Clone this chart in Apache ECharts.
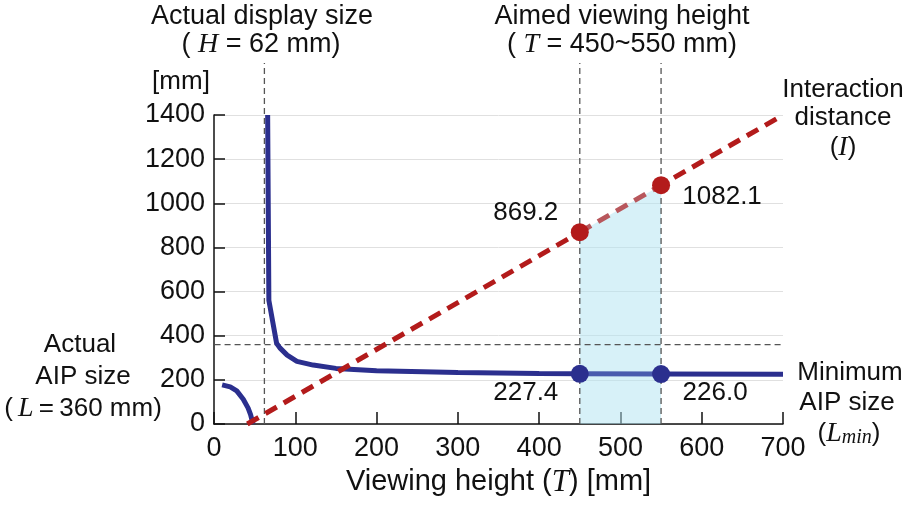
<!DOCTYPE html>
<html>
<head>
<meta charset="utf-8">
<script src="https://cdn.jsdelivr.net/npm/echarts@6/dist/echarts.min.js"></script>
<style>
  html, body { margin: 0; padding: 0; background: #ffffff; }
  #chart { width: 909px; height: 506px; }
</style>
</head>
<body>
<div id="chart"></div>
<script>
// Viewing height axis (mm) and value axis (mm)
const xRange = [0, 700];
const xStep = 100;
const yRange = [0, 1400];
const yStep = 200;

// Minimum AIP size, branch below the display size
const lminLowT = [10, 20, 28, 36, 42, 45, 48];
const lminLow  = [177, 168, 150, 112, 72, 42, 0];

// Minimum AIP size, branch above the display size
const lminT = [66, 67.5, 77, 81, 90, 102, 122, 150, 200, 300, 400, 450, 550, 700];
const lmin  = [1400, 560, 366, 345, 312, 284, 267, 252, 241, 233, 229, 227.4, 226.0, 225];

// Interaction distance
const interT = [41, 450, 550, 700];
const inter  = [0, 869.2, 1082.1, 1400];

// Aimed viewing height range and values read at its ends
const aimT = [450, 550];
const aimInter = [869.2, 1082.1];
const aimLmin = [227.4, 226.0];

// Reference values
const displayH = 62;     // actual display size
const actualL = 360;     // actual AIP size
const guideTop = 1636;   // reference lines run up to the titles
const guideLeft = -110;  // L line runs out to its label

const pairs = (xs, ys) => xs.map((x, i) => [x, ys[i]]);
const within = (xs, ys, lo, hi) => pairs(xs, ys).filter(p => p[0] >= lo && p[0] <= hi);

const SANS = 'Liberation Sans';
const SERIF = 'Liberation Serif';
const BLUE = '#2b2f8e';
const BLUE_SOFT = '#4a5cae';
const RED = '#b31b1b';
const RED_SOFT = '#b8575c';
const GUIDE = '#555555';
const INK = '#111111';

const rich = {
  n: { fontFamily: SANS, fontSize: 26, color: INK },
  i: { fontFamily: SERIF, fontStyle: 'italic', fontSize: 28, color: INK },
  s: { fontFamily: SERIF, fontStyle: 'italic', fontSize: 20, color: INK, verticalAlign: 'bottom', padding: [8, 0, 0, 0] }
};

function txt(x, y, text, size) {
  const r = JSON.parse(JSON.stringify(rich));
  if (size) { r.n.fontSize = size; }
  return {
    type: 'text', x: x, y: y, z: 10,
    style: {
      text: text, rich: r, align: 'center', verticalAlign: 'middle',
      fontFamily: SANS, fontSize: size || 26, fill: INK
    }
  };
}

const guideStyle = { color: GUIDE, width: 1.3, type: [6, 4] };

function guide(data) {
  return {
    type: 'line', data: data, clip: false, symbol: 'none', silent: true, z: 3,
    lineStyle: guideStyle
  };
}

function valueLabel(dx, dy) {
  return {
    show: true, position: 'inside', offset: [dx, dy],
    fontFamily: SANS, fontSize: 26, color: INK, opacity: 1,
    formatter: p => p.value[1].toFixed(1)
  };
}

const chart = echarts.init(document.getElementById('chart'), null, { renderer: 'canvas' });

chart.setOption({
  animation: false,
  backgroundColor: '#ffffff',
  grid: { left: 214, right: 126, top: 115, bottom: 82, containLabel: false, outerBoundsMode: 'none' },
  xAxis: {
    type: 'value', min: xRange[0], max: xRange[1], interval: xStep,
    axisLine: { show: true, lineStyle: { color: INK, width: 1.5 } },
    axisTick: { show: true, inside: true, length: 12, lineStyle: { color: INK, width: 1.5 } },
    axisLabel: { fontFamily: SANS, fontSize: 27, color: INK, margin: 11, formatter: v => String(v) },
    splitLine: { show: false },
    name: '{n|Viewing height (}{i|T}{n|) [mm]}',
    nameLocation: 'middle', nameGap: 39,
    nameTextStyle: {
      rich: {
        n: { fontFamily: SANS, fontSize: 29, color: INK },
        i: { fontFamily: SERIF, fontStyle: 'italic', fontSize: 31, color: INK }
      }
    }
  },
  yAxis: {
    type: 'value', min: yRange[0], max: yRange[1], interval: yStep,
    axisLine: { show: true, lineStyle: { color: INK, width: 1.5 } },
    axisTick: { show: true, inside: true, length: 11, lineStyle: { color: INK, width: 1.5 } },
    axisLabel: { fontFamily: SANS, fontSize: 27, color: INK, margin: 9, padding: [0, 0, 6, 0], formatter: v => String(v) },
    splitLine: { show: true, lineStyle: { color: '#e0e0e0', width: 1 } }
  },
  series: [
    // shaded aimed range, filled down to zero under the interaction distance
    {
      type: 'line', data: pairs(aimT, aimInter), symbol: 'none', silent: true, z: 1,
      lineStyle: { width: 0 },
      areaStyle: { color: '#afe4f1', opacity: 0.5 }
    },
    // reference lines
    guide([[displayH, 0], [displayH, guideTop]]),
    guide([[aimT[0], 0], [aimT[0], guideTop]]),
    guide([[aimT[1], 0], [aimT[1], guideTop]]),
    guide([[guideLeft, actualL], [xRange[1], actualL]]),
    // minimum AIP size
    {
      type: 'line', data: pairs(lminLowT, lminLow), symbol: 'none', z: 4,
      lineStyle: { color: BLUE, width: 5, cap: 'butt' }
    },
    {
      type: 'line', data: within(lminT, lmin, 0, aimT[0]), symbol: 'none', z: 4,
      lineStyle: { color: BLUE, width: 5, cap: 'butt' }
    },
    {
      type: 'line', data: within(lminT, lmin, aimT[0], aimT[1]), symbol: 'none', z: 4,
      lineStyle: { color: BLUE_SOFT, width: 5 }
    },
    {
      type: 'line', data: within(lminT, lmin, aimT[1], xRange[1]), symbol: 'none', z: 4,
      lineStyle: { color: BLUE, width: 5, cap: 'butt' }
    },
    // interaction distance
    {
      type: 'line', data: within(interT, inter, 0, aimT[0]), symbol: 'none', z: 5,
      lineStyle: { color: RED, width: 5, type: [13, 8], cap: 'butt' }
    },
    {
      type: 'line', data: within(interT, inter, aimT[0], aimT[1]), symbol: 'none', z: 5,
      lineStyle: { color: RED_SOFT, width: 5, type: [13, 8], cap: 'butt' }
    },
    {
      type: 'line', data: within(interT, inter, aimT[1], xRange[1]), symbol: 'none', z: 5,
      lineStyle: { color: RED, width: 5, type: [13, 8], dashOffset: 6, cap: 'butt' }
    },
    // values at the ends of the aimed range
    {
      type: 'scatter', z: 6, symbol: 'circle', symbolSize: 18,
      itemStyle: { color: RED, opacity: 1 },
      data: [
        { value: [aimT[0], aimInter[0]], label: valueLabel(-54, -19) },
        { value: [aimT[1], aimInter[1]], label: valueLabel(61, 12) }
      ]
    },
    {
      type: 'scatter', z: 6, symbol: 'circle', symbolSize: 18,
      itemStyle: { color: BLUE, opacity: 1 },
      data: [
        { value: [aimT[0], aimLmin[0]], label: valueLabel(-54, 19) },
        { value: [aimT[1], aimLmin[1]], label: valueLabel(54, 19) }
      ]
    }
  ],
  graphic: [
    txt(262, 17, '{n|Actual display size}', 27),
    txt(261, 45, '{n|( }{i|H}{n| = 62 mm)}', 27),
    txt(622, 17, '{n|Aimed viewing height}', 27),
    txt(622, 45, '{n|( }{i|T}{n| = 450~550 mm)}', 27),
    txt(181, 82, '{n|[mm]}', 26),
    txt(843, 90, '{n|Interaction}'),
    txt(843, 118, '{n|distance}'),
    txt(843, 148, '{n|(}{i|I}{n|)}'),
    txt(80, 345, '{n|Actual}'),
    txt(83, 377, '{n|AIP size}'),
    txt(83, 409, '{n|(\u2009}{i|L}{n|\u2009=\u2009360 mm)}'),
    txt(850, 373, '{n|Minimum}'),
    txt(847, 403, '{n|AIP size}'),
    txt(849, 434, '{n|(}{i|L}{s|min}{n|)}')
  ]
});
</script>
</body>
</html>
